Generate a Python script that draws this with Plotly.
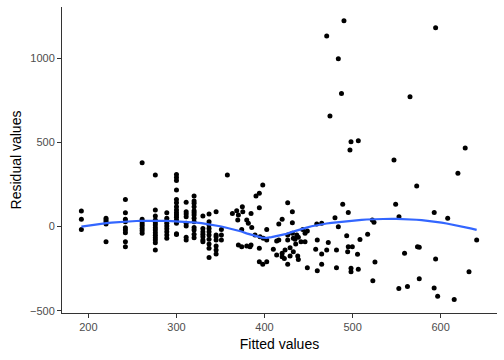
import numpy as np
import plotly.graph_objects as go

# Residuals vs fitted values
fitted_values = (
    [192] * 3 + [220] * 5 + [242] * 9 + [261] * 8 + [276] * 14 + [289] * 9
    + [300] * 15 + [311] * 8 + [320] * 13 + [330] * 7 + [337] * 10 + [345] * 7 + [351] * 3
    + [357.8, 363.5, 368.4, 370.3, 369.6, 374.8, 375.3, 374.1, 370.3, 374.1,
       379.8, 381.6, 384.7, 385.5, 379.8, 383.5, 384.7, 389.2, 390.3, 394.1,
       394.1, 398.0, 394.9, 394.1, 398.6, 402.5, 394.1, 398.0, 402.5, 402.5,
       410.0, 413.8, 413.8, 416.2, 416.2, 420.0, 420.0, 420.0, 422.5, 423.3,
       426.3, 426.3, 426.3, 426.3, 429.0, 429.0, 431.6, 431.6, 431.6, 432.7,
       434.6, 435.4, 432.7, 436.6, 438.4, 437.7, 438.4, 441.4, 443.4, 446.0,
       446.0, 448.6, 448.6, 459.3, 464.9, 459.9, 458.1, 459.9, 464.9, 464.9,
       470.6, 472.4, 480.0, 483.8, 481.7, 481.7, 488.8, 495.1, 493.3, 495.1,
       499.7, 494.4, 505.6, 508.4, 498.2, 498.2, 506.5, 497.0, 470.6, 483.8,
       487.4, 474.3, 490.2, 498.2, 506.5, 594.3, 565.2, 627.9, 547.0, 619.6,
       572.8, 548.9, 552.7, 592.7, 608.0, 522.4, 524.3, 517.1, 525.4, 559.0,
       573.7, 575.7, 594.3, 640.9, 632.2, 523.0, 552.5, 562.3, 575.7, 592.6,
       596.6, 615.4]
)

residual_values = (
    [92, 43, -17]
    + [49, 39, 28, 15, -90]
    + [161, 82, 43, 28, -7, -21, -37, -90, -120]
    + [379, 43, 28, 15, 3, -11, -25, -40]
    + [306, 98, 62, 39, 23, 9, -7, -21, -37, -52, -66, -80, -96, -139]
    + [82, 49, 34, 19, 3, -13, -31, -50, -70]
    + [309, 291, 273, 217, 161, 141, 118, 98, 82, 68, 55, 39, 19, -42, -47]
    + [144, 88, 74, 58, 19, 3, -64, -80]
    + [181, 151, 138, 118, 94, 82, 68, 49, 28, -5, -21, -45, -66]
    + [62, -11, -31, -45, -61, -80, -90]
    + [74, 28, 9, -11, -31, -50, -76, -104, -129, -183]
    + [88, -50, -61, -80, -116, -139, -163]
    + [-17, -50, -80]
    + [306, 78, 94, 68, 39, 118, 88, -17, -110, -120,
       39, 19, 78, -5, -116, -120, -110, -50, 181, 197,
       112, 246, -61, -129, -70, -17, -209, -223, -209, -80,
       -134, -169, -86, -80, 15, 43, -159, -179, -189, -139,
       141, -50, -80, -223, -126, -175, 88, 23, -40, -70,
       -76, -104, -150, -50, -64, -175, -195, -90, -17, -40,
       -90, -27, -245, 15, 19, -80, -135, -262, -163, -224,
       -139, -94, 52, -1, -139, -245, 132, 84, -55, -120,
       -120, -150, -165, -77, -248, -268, -254, 454, 1131, 996,
       790, 656, 1221, 503, 509, 1180, 770, 466, 395, 316,
       240, 132, 58, 84, 49, 39, 25, -45, -211, -159,
       -120, -123, -193, -80, -268, -322, -367, -355, -309, -364,
       -414, -433]
)

x_ticks = [200, 300, 400, 500, 600]
y_ticks = [-500, 0, 500, 1000]

x = np.array(fitted_values, dtype=float)
y = np.array(residual_values, dtype=float)


def loess(xv, yv, grid, span=0.75):
    n = len(xv)
    q = int(np.floor(n * span))
    out = []
    for x0 in grid:
        d = np.abs(xv - x0)
        h = np.sort(d)[q - 1]
        u = np.clip(d / h, 0, 1)
        w = (1 - u ** 3) ** 3
        dx = xv - x0
        X = np.column_stack([np.ones(n), dx, dx ** 2])
        W = np.sqrt(w)
        beta, *_ = np.linalg.lstsq(X * W[:, None], yv * W, rcond=None)
        out.append(beta[0])
    return np.array(out)


grid = np.linspace(x.min(), x.max(), 80)
smooth = loess(x, y, grid)

fig = go.Figure()
fig.add_trace(go.Scatter(
    x=fitted_values, y=residual_values, mode="markers",
    marker=dict(color="black", size=5, line=dict(width=0)),
    showlegend=False, hoverinfo="skip"))
fig.add_trace(go.Scatter(
    x=grid, y=smooth, mode="lines",
    line=dict(color="#3366FF", width=2.2),
    showlegend=False, hoverinfo="skip"))

axis_common = dict(
    showgrid=False, zeroline=False, showline=True,
    linecolor="#333333", linewidth=1,
    ticks="outside", ticklen=4, tickcolor="#333333", tickwidth=1,
    tickfont=dict(size=11, color="#4D4D4D"),
)

fig.update_layout(
    width=504, height=360,
    margin=dict(l=62, r=7, t=7, b=47),
    paper_bgcolor="white", plot_bgcolor="white",
    font=dict(family="Liberation Sans, Arial, sans-serif", color="black"),
    xaxis=dict(range=[170, 664], tickvals=x_ticks,
               title=dict(text="Fitted values", font=dict(size=14), standoff=6),
               **axis_common),
    yaxis=dict(range=[-513, 1303], tickvals=y_ticks,
               title=dict(text="Residual values", font=dict(size=14), standoff=5),
               **axis_common),
)

fig.write_html("out.html", config={"displayModeBar": False},
               post_script="document.body.style.margin='0';")
